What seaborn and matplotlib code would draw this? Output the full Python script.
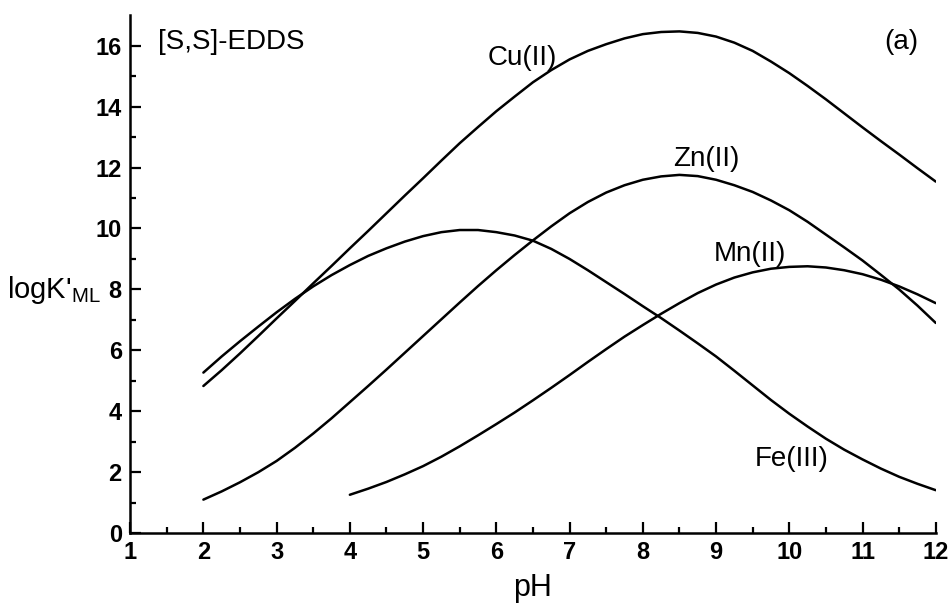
import numpy as np
import pandas as pd
import matplotlib
matplotlib.use('Agg')
import matplotlib.pyplot as plt
import seaborn as sns

# conditional stability constants of [S,S]-EDDS complexes vs pH (read every 0.25 pH)
ph_full = np.arange(2, 12.01, 0.25)
cu = [4.83, 5.35, 5.9, 6.47, 7.05, 7.62, 8.2, 8.77, 9.35, 9.92, 10.5, 11.08, 11.65, 12.23,
      12.8, 13.33, 13.85, 14.33, 14.8, 15.2, 15.55, 15.83, 16.05, 16.24, 16.38, 16.45, 16.47,
      16.42, 16.3, 16.1, 15.83, 15.48, 15.1, 14.68, 14.24, 13.78, 13.32, 12.87, 12.43, 11.98, 11.54]
fe = [5.27, 5.8, 6.3, 6.78, 7.25, 7.69, 8.1, 8.47, 8.8, 9.1, 9.35, 9.57, 9.75, 9.88,
      9.95, 9.95, 9.88, 9.77, 9.6, 9.33, 9.0, 8.63, 8.24, 7.85, 7.45, 7.06, 6.65,
      6.23, 5.8, 5.33, 4.85, 4.37, 3.92, 3.5, 3.1, 2.74, 2.42, 2.12, 1.85, 1.62, 1.41]
zn = [1.1, 1.37, 1.67, 2.0, 2.37, 2.8, 3.27, 3.77, 4.3, 4.83, 5.37, 5.92, 6.47, 7.02,
      7.57, 8.11, 8.63, 9.13, 9.61, 10.07, 10.5, 10.87, 11.18, 11.42, 11.6, 11.71, 11.76,
      11.72, 11.6, 11.42, 11.2, 10.92, 10.6, 10.22, 9.8, 9.38, 8.95, 8.48, 8.0, 7.47, 6.9]
ph_mn = np.arange(4, 12.01, 0.25)
mn = [1.26, 1.46, 1.68, 1.93, 2.2, 2.51, 2.85, 3.21, 3.58, 3.96, 4.36, 4.77, 5.19, 5.62,
      6.04, 6.45, 6.83, 7.2, 7.55, 7.88, 8.16, 8.39, 8.56, 8.68, 8.74, 8.76, 8.72, 8.63,
      8.5, 8.32, 8.1, 7.84, 7.55]

# label text and where it sits (pH, logK)
labels = ['Cu(II)', 'Zn(II)', 'Mn(II)', 'Fe(III)']
label_x = [6.35, 8.87, 9.46, 10.03]
label_y = [15.6, 12.29, 9.17, 2.43]

sns.set_style('ticks')
plt.rcParams['font.family'] = ['Liberation Sans', 'DejaVu Sans']
for k in ['text.color', 'axes.labelcolor', 'xtick.color', 'ytick.color', 'axes.edgecolor']:
    plt.rcParams[k] = 'black'

fig = plt.figure(figsize=(9.5, 6.1), dpi=100)
ax = fig.add_axes([0.137, 0.126, 0.848, 0.849])

df = pd.concat([
    pd.DataFrame({'pH': ph_full, 'logK': cu, 'metal': 'Cu'}),
    pd.DataFrame({'pH': ph_full, 'logK': fe, 'metal': 'Fe'}),
    pd.DataFrame({'pH': ph_full, 'logK': zn, 'metal': 'Zn'}),
    pd.DataFrame({'pH': ph_mn, 'logK': mn, 'metal': 'Mn'}),
])

for m in ['Cu', 'Fe', 'Zn', 'Mn']:
    sns.lineplot(data=df[df['metal'] == m], x='pH', y='logK', color='black',
                 linewidth=1.8, ax=ax, legend=False)

for t, x, y in zip(labels, label_x, label_y):
    ax.text(x, y, t, fontsize=20, ha='center', va='center')

ax.text(1.38, 16.13, '[S,S]-EDDS', fontsize=20, ha='left', va='center')
ax.text(11.53, 16.13, '(a)', fontsize=20, ha='center', va='center')

ax.set_xlim(1, 12)
ax.set_ylim(0, 17)
ax.set_xticks(range(1, 13))
ax.set_xticks(np.arange(1.5, 12, 1), minor=True)
ax.set_yticks(range(0, 17, 2))
ax.set_yticks(range(1, 17, 2), minor=True)

ax.tick_params(axis='both', which='major', direction='in', length=8, width=1.6,
               labelsize=17, pad=6)
ax.tick_params(axis='both', which='minor', direction='in', length=4.5, width=1.6)
for lab in ax.get_xticklabels() + ax.get_yticklabels():
    lab.set_fontweight('bold')

sns.despine(ax=ax)
for s in ['left', 'bottom']:
    ax.spines[s].set_linewidth(1.8)

ax.set_xlabel('pH', fontsize=22, labelpad=6)
ax.set_ylabel(r"logK'$_{\mathregular{ML}}$", fontsize=21, rotation=0, ha='right', va='center')
ax.yaxis.set_label_coords(-0.037, 0.47)

fig.savefig('out.png', dpi=100)
